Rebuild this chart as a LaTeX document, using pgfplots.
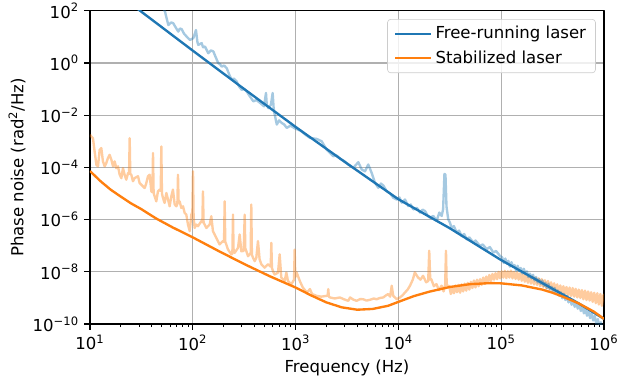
\documentclass[border=0pt]{standalone}
\usepackage{fontspec}
\setmainfont{DejaVu Sans}
\usepackage{pgfplots}
\usepackage{pgfplotstable}
\pgfplotsset{compat=1.18}
\definecolor{cblue}{RGB}{31,119,180}
\definecolor{corange}{RGB}{255,127,14}
\definecolor{gridgray}{RGB}{176,176,176}

% smooth models (log10 f, log10 S)
\pgfplotstableread{
lx ly
1.40 2.26
1.5 1.96
2.0 0.47
2.5 -1.0
3.0 -2.45
3.5 -3.85
4.0 -5.22
4.5 -6.33
5.0 -7.55
5.5 -8.65
5.75 -9.2
6.0 -9.8
}\freesmooth

\pgfplotstableread{
lx ly
1.0 -4.14
1.1 -4.52
1.2 -4.85
1.3 -5.12
1.4 -5.38
1.5 -5.6
1.6 -5.85
1.65 -5.97
1.8 -6.29
2.0 -6.68
2.25 -7.2
2.5 -7.7
2.75 -8.17
3.0 -8.6
3.15 -8.9
3.3 -9.17
3.45 -9.36
3.6 -9.45
3.75 -9.42
3.9 -9.3
4.0 -9.15
4.15 -8.93
4.3 -8.76
4.5 -8.58
4.7 -8.47
4.9 -8.43
5.0 -8.44
5.2 -8.52
5.4 -8.68
5.5 -8.8
5.6 -8.95
5.75 -9.2
5.9 -9.52
6.0 -9.8
}\stabsmooth

% measured (noisy) spectra
\pgfplotstableread{
lx ly
1.65 2.6
1.73 1.96
1.762 1.45
1.79 1.55
1.81 1.52
1.835 1.35
1.859 1.20
1.875 1.32
1.892 1.29
1.915 1.12
1.940 1.01
1.973 0.88
2.005 0.95
2.031 1.26
2.045 0.80
2.054 0.69
2.086 0.76
2.10 0.60
2.118 0.63
2.151 0.37
2.175 0.48
2.200 0.44
2.225 0.20
2.248 -0.01
2.265 -0.05
2.281 -0.14
2.305 -0.10
2.330 -0.20
2.355 -0.45
2.378 -0.64
2.40 -0.60
2.427 -0.71
2.45 -0.90
2.476 -1.03
2.50 -1.0
2.524 -1.09
2.55 -1.25
2.589 -1.47
2.62 -1.42
2.654 -1.53
2.675 -1.6
2.693 -1.66
2.712 -1.15
2.72 -1.62
2.735 -1.73
2.76 -1.6
2.777 -1.15
2.786 -1.7
2.794 -1.92
2.817 -2.36
2.84 -2.2
2.866 -2.30
2.89 -2.36
2.914 -2.49
2.95 -2.40
2.99 -2.50
3.05 -2.60
3.10 -2.76
3.140 -2.87
3.205 -2.91
3.254 -3.00
3.302 -3.32
3.367 -3.57
3.40 -3.55
3.432 -3.67
3.47 -3.75
3.513 -3.89
3.561 -4.02
3.610 -3.80
3.643 -4.08
3.675 -4.15
3.707 -3.89
3.740 -4.21
3.772 -4.59
3.805 -4.78
3.83 -4.62
3.853 -4.69
3.886 -4.91
3.92 -5.0
3.950 -5.16
3.983 -5.23
4.01 -5.15
4.032 -5.35
4.064 -5.23
4.096 -5.48
4.12 -5.42
4.145 -5.61
4.18 -5.55
4.210 -5.73
4.235 -5.62
4.259 -5.67
4.285 -5.85
4.307 -5.92
4.34 -5.86
4.372 -6.05
4.398 -5.73
4.421 -5.86
4.435 -5.6
4.448 -4.25
4.458 -4.28
4.468 -5.5
4.485 -5.99
4.50 -6.1
4.518 -6.31
4.54 -6.25
4.567 -6.50
4.59 -6.42
4.616 -6.63
4.64 -6.55
4.664 -6.75
4.69 -6.68
4.729 -6.88
4.75 -6.8
4.794 -7.01
4.82 -6.95
4.859 -7.13
4.89 -7.05
4.923 -7.26
4.95 -7.2
4.988 -7.39
5.01 -7.45
5.025 -7.66
5.04 -7.49
5.055 -7.69
5.07 -7.58
5.085 -7.80
5.10 -7.63
5.115 -7.80
5.13 -7.74
5.145 -7.95
5.16 -7.77
5.175 -7.97
5.19 -7.85
5.205 -8.06
5.22 -7.88
5.235 -8.09
5.25 -7.98
5.265 -8.20
5.28 -8.07
5.295 -8.25
5.31 -8.11
5.325 -8.33
5.34 -8.20
5.355 -8.41
5.37 -8.28
5.385 -8.46
5.40 -8.33
5.415 -8.54
5.43 -8.42
5.445 -8.63
5.46 -8.46
5.475 -8.68
5.49 -8.57
5.505 -8.76
5.52 -8.62
5.535 -8.85
5.55 -8.71
5.565 -8.92
5.58 -8.78
5.595 -9.01
5.61 -8.84
5.625 -9.08
5.64 -8.92
5.655 -9.17
5.67 -9.00
5.685 -9.26
5.70 -9.07
5.715 -9.34
5.73 -9.16
5.745 -9.41
5.76 -9.25
5.775 -9.50
5.79 -9.32
5.805 -9.59
5.82 -9.41
5.835 -9.68
5.85 -9.50
5.865 -9.77
5.88 -9.58
5.895 -9.86
5.91 -9.69
5.925 -9.98
5.94 -9.81
5.955 -10.10
5.97 -9.93
5.985 -10.2
6.0 -10.1
}\freenoisy

\pgfplotstableread{
lx ly
1.00 -2.75
1.013 -2.82
1.029 -2.88
1.045 -3.39
1.062 -3.90
1.078 -3.96
1.094 -3.33
1.110 -3.26
1.126 -3.77
1.143 -3.96
1.159 -3.83
1.175 -3.64
1.191 -3.52
1.208 -3.71
1.224 -3.96
1.240 -3.77
1.256 -4.03
1.272 -3.96
1.289 -4.28
1.305 -4.41
1.321 -4.03
1.337 -4.28
1.353 -4.47
1.370 -4.22
1.380 -4.25
1.386 -2.88
1.392 -4.25
1.402 -4.28
1.418 -4.53
1.434 -4.41
1.467 -4.34
1.483 -4.60
1.499 -4.66
1.532 -4.79
1.548 -4.60
1.564 -4.34
1.580 -4.28
1.597 -4.92
1.607 -4.95
1.613 -3.45
1.619 -4.98
1.629 -5.11
1.645 -5.30
1.661 -4.92
1.678 -4.85
1.688 -4.9
1.694 -3.20
1.700 -5.0
1.710 -5.17
1.726 -5.36
1.743 -4.98
1.759 -5.23
1.775 -5.49
1.791 -5.11
1.807 -4.85
1.824 -5.42
1.840 -5.49
1.850 -5.4
1.856 -4.28
1.862 -5.3
1.872 -5.30
1.888 -5.55
1.905 -5.49
1.921 -5.74
1.937 -5.81
1.953 -6.19
1.970 -6.44
1.986 -5.81
1.996 -5.7
2.002 -4.15
2.008 -5.9
2.018 -6.32
2.034 -6.19
2.051 -6.25
2.083 -6.06
2.093 -6.1
2.099 -4.92
2.105 -6.1
2.115 -6.19
2.132 -6.32
2.164 -6.19
2.180 -5.87
2.196 -6.44
2.213 -6.57
2.229 -6.70
2.261 -6.95
2.294 -6.82
2.304 -6.85
2.310 -5.30
2.316 -6.85
2.326 -6.95
2.342 -7.14
2.375 -7.33
2.385 -7.3
2.391 -5.81
2.397 -7.2
2.407 -7.27
2.440 -7.08
2.456 -6.57
2.472 -7.21
2.495 -7.2
2.505 -5.81
2.511 -7.1
2.521 -7.21
2.537 -7.40
2.553 -7.33
2.563 -7.3
2.569 -5.42
2.575 -7.35
2.586 -7.46
2.602 -7.59
2.618 -7.46
2.634 -6.82
2.650 -7.52
2.667 -7.71
2.699 -7.84
2.732 -7.71
2.758 -7.8
2.764 -6.89
2.770 -7.85
2.780 -7.97
2.796 -8.10
2.829 -8.03
2.845 -7.33
2.861 -8.22
2.894 -8.35
2.910 -8.03
2.926 -8.35
2.958 -8.48
2.985 -8.3
2.991 -7.15
2.997 -8.2
3.01 -8.02
3.04 -8.34
3.07 -8.6
3.11 -8.79
3.14 -8.66
3.16 -8.85
3.205 -8.92
3.25 -8.95
3.30 -8.92
3.312 -8.9
3.318 -8.66
3.324 -8.95
3.335 -8.98
3.38 -9.02
3.43 -8.98
3.47 -9.05
3.513 -9.11
3.53 -8.98
3.56 -9.06
3.594 -9.11
3.63 -9.04
3.659 -9.05
3.69 -9.1
3.724 -9.07
3.76 -9.02
3.788 -9.05
3.82 -9.0
3.853 -8.98
3.88 -8.9
3.90 -8.85
3.92 -8.95
3.935 -8.53
3.95 -8.92
3.984 -9.05
4.015 -8.98
4.04 -8.9
4.064 -8.79
4.09 -8.68
4.113 -8.53
4.14 -8.3
4.16 -8.02
4.19 -8.21
4.215 -8.3
4.24 -8.15
4.27 -8.40
4.29 -8.35
4.30 -7.19
4.31 -8.3
4.32 -8.28
4.345 -8.55
4.37 -8.47
4.395 -8.7
4.42 -8.53
4.44 -8.75
4.455 -8.5
4.463 -7.19
4.47 -8.5
4.48 -8.53
4.495 -8.55
4.51 -8.85
4.525 -8.6
4.54 -8.82
4.555 -8.52
4.57 -8.78
4.585 -8.5
4.60 -8.8
4.615 -8.48
4.63 -8.75
4.645 -8.45
4.66 -8.72
4.675 -8.42
4.69 -8.68
4.705 -8.38
4.72 -8.62
4.735 -8.33
4.75 -8.6
4.765 -8.3
4.78 -8.55
4.795 -8.28
4.81 -8.5
4.825 -8.22
4.84 -8.45
4.855 -8.18
4.87 -8.4
4.885 -8.12
4.90 -8.35
4.915 -8.08
4.93 -8.3
4.945 -8.05
4.96 -8.28
4.975 -8.0
4.99 -8.25
5.005 -7.98
5.02 -8.22
5.035 -7.96
5.05 -8.24
5.065 -7.98
5.08 -8.22
5.095 -7.95
5.11 -8.25
5.125 -8.0
5.14 -8.27
5.155 -8.02
5.17 -8.3
5.185 -8.05
5.20 -8.34
5.215 -8.08
5.23 -8.38
5.245 -8.12
5.26 -8.42
5.275 -8.15
5.29 -8.45
5.305 -8.18
5.32 -8.48
5.335 -8.22
5.35 -8.5
5.365 -8.25
5.38 -8.55
5.395 -8.28
5.41 -8.58
5.425 -8.32
5.44 -8.62
5.455 -8.35
5.47 -8.66
5.485 -8.4
5.50 -8.7
5.515 -8.44
5.53 -8.74
5.545 -8.48
5.56 -8.78
5.575 -8.52
5.59 -8.83
5.605 -8.55
5.62 -8.86
5.635 -8.58
5.65 -8.9
5.665 -8.6
5.68 -8.92
5.695 -8.62
5.71 -8.95
5.725 -8.65
5.74 -8.98
5.755 -8.68
5.77 -9.0
5.785 -8.7
5.80 -9.05
5.815 -8.72
5.83 -9.08
5.845 -8.75
5.86 -9.1
5.875 -8.78
5.89 -9.15
5.905 -8.8
5.92 -9.2
5.935 -8.82
5.95 -9.25
5.965 -8.85
5.98 -9.3
5.995 -8.88
6.0 -9.1
}\stabnoisy

\begin{document}
\begin{tikzpicture}
\useasboundingbox (-57.15pt,-36.8pt) rectangle (335.3pt,205.8pt);
\begin{axis}[
  at={(0pt,0pt)}, anchor=south west,
  scale only axis, width=326.4pt, height=199pt,
  xmode=log, ymode=log,
  xmin=10, xmax=1e6, ymin=1e-10, ymax=1e2,
  xtick={10,100,1000,10000,100000,1000000},
  xticklabels={10\textsuperscript{1},10\textsuperscript{2},10\textsuperscript{3},10\textsuperscript{4},10\textsuperscript{5},10\textsuperscript{6}},
  minor xtick={20,30,40,50,60,70,80,90,200,300,400,500,600,700,800,900,2000,3000,4000,5000,6000,7000,8000,9000,20000,30000,40000,50000,60000,70000,80000,90000,200000,300000,400000,500000,600000,700000,800000,900000},
  ytick={1e-10,1e-8,1e-6,1e-4,1e-2,1,100},
  yticklabels={10\textsuperscript{−10},10\textsuperscript{−8},10\textsuperscript{−6},10\textsuperscript{−4},10\textsuperscript{−2},10\textsuperscript{0},10\textsuperscript{2}},
  minor ytick={},
  tick align=outside,
  xtick pos=bottom, ytick pos=left,
  major tick length=3.5pt, minor tick length=2pt,
  every tick/.style={black, line width=0.8pt},
  minor tick style={black, line width=0.6pt},
  ticklabel style={font=\fontsize{10.5}{12.6}\selectfont},
  grid=major,
  major grid style={gridgray, line width=0.8pt},
  axis line style={black, line width=0.8pt},
  xlabel={Frequency (Hz)},
  ylabel={Phase noise (rad\textsuperscript{2}/Hz)},
  label style={font=\fontsize{10.5}{12.6}\selectfont},
  xlabel style={at={(axis description cs:0.5,-0.1404)}, anchor=center},
  ylabel style={at={(axis description cs:-0.142,0.5)}, anchor=center},
  legend style={at={(0.984,0.9735)}, anchor=north east, draw=black!20,
    fill=white, fill opacity=0.8, text opacity=1, rounded corners=2pt,
    font=\fontsize{10.5}{12.6}\selectfont, inner xsep=4pt, inner ysep=2.5pt,
    row sep=2pt},
  legend cell align=left,
  legend image code/.code={\path (0pt,0pt) -- (23pt,0pt);\draw[#1] (0pt,0pt) -- (21.5pt,0pt);},
  line join=round,
]
\addplot[corange, draw opacity=0.4, line width=1.5pt, forget plot]
  table[x expr=10^\thisrow{lx}, y expr=10^\thisrow{ly}] {\stabnoisy};
\addplot[cblue, draw opacity=0.4, line width=1.5pt, forget plot]
  table[x expr=10^\thisrow{lx}, y expr=10^\thisrow{ly}] {\freenoisy};
\addplot[cblue, line width=1.5pt]
  table[x expr=10^\thisrow{lx}, y expr=10^\thisrow{ly}] {\freesmooth};
\addlegendentry{Free-running laser}
\addplot[corange, line width=1.5pt]
  table[x expr=10^\thisrow{lx}, y expr=10^\thisrow{ly}] {\stabsmooth};
\addlegendentry{Stabilized laser}
\end{axis}
\end{tikzpicture}
\end{document}
